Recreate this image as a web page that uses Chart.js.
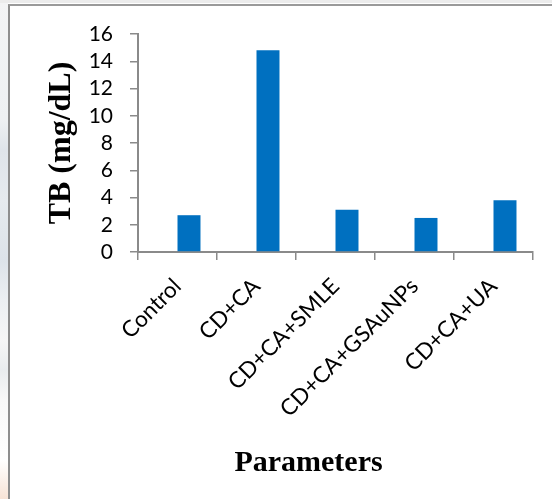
<!DOCTYPE html>
<html>
<head>
<meta charset="utf-8">
<script src="https://cdn.jsdelivr.net/npm/chart.js@4/dist/chart.umd.min.js"></script>
<style>
  html, body { margin: 0; padding: 0; background: #fff; }
  body { width: 552px; height: 499px; position: relative; overflow: hidden; }
  #edge {
    position: absolute; left: 0; top: 0; width: 8px; height: 499px;
    background: linear-gradient(to bottom, #f3f4f5 0px, #eef0f2 120px, #dfe4ea 150px, #e6eaee 200px,
      #dde3e9 260px, #eceff2 300px, #f6f6f6 340px, #e9ecee 370px, #f8f8f8 400px, #ffffff 460px, #f7e3d6 499px);
  }
  #topband { position: absolute; left: 0; top: 0; width: 552px; height: 3px; background: #ececec; }
  #frame {
    position: absolute; left: 8px; top: 4px; width: 544px; height: 495px;
    border-left: 2px solid #8e8e8e; border-top: 2px solid #9a9a9a; box-sizing: border-box;
  }
  #wrap { position: absolute; left: 0; top: 0; width: 552px; height: 499px; }
</style>
</head>
<body>
<div id="edge"></div>
<div id="topband"></div>
<div id="frame"></div>
<div id="wrap"><canvas id="chart"></canvas></div>
<script>
// Total bilirubin per treatment group
const groups = ['Control', 'CD+CA', 'CD+CA+SMLE', 'CD+CA+GSAuNPs', 'CD+CA+UA'];
const tbValues = [2.7, 14.8, 3.1, 2.5, 3.8];
const yTicks = [0, 2, 4, 6, 8, 10, 12, 14, 16];

const axisGrey = '#8a8a8a';

new Chart(document.getElementById('chart'), {
  type: 'bar',
  data: {
    labels: groups,
    datasets: [
      // unused first series slot of the grouped layout
      { label: '', data: [], backgroundColor: '#0070C0' },
      { label: 'TB', data: tbValues, backgroundColor: '#0070C0', borderWidth: 0 }
    ]
  },
  options: {
    responsive: true,
    maintainAspectRatio: false,
    animation: false,
    events: [],
    layout: { padding: { left: 84, right: 19, top: 34, bottom: 0 } },
    datasets: { bar: { categoryPercentage: 0.582, barPercentage: 1 } },
    plugins: {
      legend: { display: false },
      tooltip: { enabled: false },
      title: {
        display: true,
        position: 'bottom',
        text: 'Parameters',
        color: '#000',
        font: { family: 'Liberation Serif', size: 30, weight: 'bold' },
        padding: { top: 0, bottom: 18 }
      }
    },
    scales: {
      x: {
        grid: { display: true, drawOnChartArea: false, tickLength: 8, color: axisGrey, lineWidth: 1.5 },
        border: { display: true, color: axisGrey, width: 2 },
        ticks: {
          color: '#000', font: { family: 'Lato', size: 22.5 }, maxRotation: 45, minRotation: 45,
          autoSkip: false, padding: 13
        },
        afterFit: (s) => { s.height = 193; }
      },
      y: {
        min: 0, max: 16,
        afterBuildTicks: (s) => { s.ticks = yTicks.map(v => ({ value: v })); },
        grid: { display: true, drawOnChartArea: false, tickLength: 8, color: axisGrey, lineWidth: 1.5 },
        border: { display: true, color: axisGrey, width: 2 },
        ticks: { color: '#000', font: { family: 'Lato', size: 21 }, padding: 17, autoSkip: false },
        title: {
          display: true,
          text: 'TB (mg/dL)',
          color: '#000',
          font: { family: 'Liberation Serif', size: 32, weight: 'bold' },
          padding: { top: -41, bottom: 0 }
        },
        afterFit: (s) => { s.width = 54; }
      }
    }
  }
});
</script>
</body>
</html>
